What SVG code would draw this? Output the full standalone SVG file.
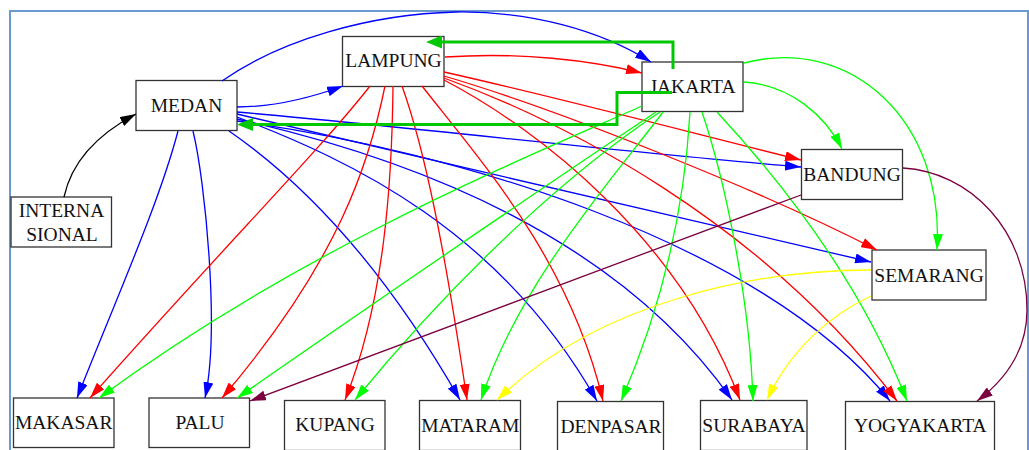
<svg xmlns="http://www.w3.org/2000/svg" width="1029" height="450" viewBox="0 0 1029 450">
<style>
.frame{fill:none;stroke:#6a9ad0;stroke-width:2}
.node rect{fill:#fff;stroke:#333;stroke-width:1.3}
.node text{font-family:"Liberation Serif","Times New Roman",serif;font-size:19.5px;fill:#111;text-anchor:middle}
.e{fill:none;stroke-width:1.3}
.bl{stroke:#0000ff;marker-end:url(#aB)}
.rd{stroke:#ff0000;marker-end:url(#aR)}
.gr{stroke:#00ff00;marker-end:url(#aG)}
.mr{stroke:#7a0040;marker-end:url(#aM)}
.yl{stroke:#ffff00;marker-end:url(#aY)}
.bk{stroke:#000;marker-end:url(#aK)}
.tg{fill:none;stroke:#00c800;stroke-width:3;marker-end:url(#aT)}
</style>
<defs>
<marker id="aB" viewBox="0 0 16 10" refX="16" refY="5" markerWidth="16" markerHeight="10" markerUnits="userSpaceOnUse" orient="auto"><path d="M0,0L16,5L0,10z" fill="#0000ff"/></marker>
<marker id="aR" viewBox="0 0 16 10" refX="16" refY="5" markerWidth="16" markerHeight="10" markerUnits="userSpaceOnUse" orient="auto"><path d="M0,0L16,5L0,10z" fill="#ff0000"/></marker>
<marker id="aG" viewBox="0 0 16 10" refX="16" refY="5" markerWidth="16" markerHeight="10" markerUnits="userSpaceOnUse" orient="auto"><path d="M0,0L16,5L0,10z" fill="#00ff00"/></marker>
<marker id="aM" viewBox="0 0 16 10" refX="16" refY="5" markerWidth="16" markerHeight="10" markerUnits="userSpaceOnUse" orient="auto"><path d="M0,0L16,5L0,10z" fill="#7a0040"/></marker>
<marker id="aY" viewBox="0 0 16 10" refX="16" refY="5" markerWidth="16" markerHeight="10" markerUnits="userSpaceOnUse" orient="auto"><path d="M0,0L16,5L0,10z" fill="#ffff00"/></marker>
<marker id="aK" viewBox="0 0 16 10" refX="16" refY="5" markerWidth="16" markerHeight="10" markerUnits="userSpaceOnUse" orient="auto"><path d="M0,0L16,5L0,10z" fill="#000"/></marker>
<marker id="aT" viewBox="0 0 16 13" refX="0" refY="6.5" markerWidth="16" markerHeight="13" markerUnits="userSpaceOnUse" orient="auto"><path d="M0,0L16,6.5L0,13z" fill="#00c800"/></marker>
</defs>
<rect class="frame" x="10" y="11" width="1018" height="460"/>

<g id="MEDAN" class="node"><rect x="136" y="80.5" width="101" height="50"/><text x="186.5" y="112.3">MEDAN</text></g>
<g id="LAMPUNG" class="node"><rect x="342.5" y="36.5" width="101.5" height="50"/><text x="393.5" y="67">LAMPUNG</text></g>
<g id="JAKARTA" class="node"><rect x="642" y="62" width="101" height="49.5"/><text x="692.5" y="93">JAKARTA</text></g>
<g id="BANDUNG" class="node"><rect x="801.5" y="149.5" width="101" height="50"/><text x="852" y="181">BANDUNG</text></g>
<g id="SEMARANG" class="node"><rect x="872" y="250" width="114" height="50"/><text x="929" y="281.7">SEMARANG</text></g>
<g id="INTERNASIONAL" class="node"><rect x="11" y="197" width="100.5" height="50"/><text x="61.5" y="216.7">INTERNA</text><text x="62" y="240.7">SIONAL</text></g>
<g id="MAKASAR" class="node"><rect x="13.5" y="398" width="100.5" height="49.5"/><text x="63.7" y="429.3">MAKASAR</text></g>
<g id="PALU" class="node"><rect x="149" y="398" width="100.5" height="49.5"/><text x="200" y="429.3">PALU</text></g>
<g id="KUPANG" class="node"><rect x="284.5" y="400.5" width="100.5" height="50"/><text x="335" y="431">KUPANG</text></g>
<g id="MATARAM" class="node"><rect x="419.5" y="400.5" width="101" height="50"/><text x="470.3" y="431.7">MATARAM</text></g>
<g id="DENPASAR" class="node"><rect x="557.5" y="401.5" width="106" height="50"/><text x="611" y="432.7">DENPASAR</text></g>
<g id="SURABAYA" class="node"><rect x="700.5" y="400.5" width="106.5" height="50"/><text x="754" y="431.7">SURABAYA</text></g>
<g id="YOGYAKARTA" class="node"><rect x="845.5" y="401.5" width="149" height="50"/><text x="920.3" y="432.3">YOGYAKARTA</text></g>

<g id="edges">
<path class="e bk" d="M64,197 C72,160 100,133 136,114"/>
<path class="e bl" d="M237,107 C275,107 310,98 343,86"/>
<path class="e bl" d="M222,81 C280,40 370,14 456,12 C530,11 600,30 651,62"/>
<path class="e bl" d="M237,112 C420,128 620,152 801,167"/>
<path class="e bl" d="M237,114 C450,165 700,222 871,262"/>
<path class="e bl" d="M178,131 C160,200 120,290 77,398"/>
<path class="e bl" d="M193,131 C205,180 220,330 205,398"/>
<path class="e bl" d="M229,131 C300,180 380,260 460,400"/>
<path class="e bl" d="M237,117 C350,160 500,230 597,401"/>
<path class="e bl" d="M237,119 C420,160 620,240 732,400"/>
<path class="e bl" d="M237,121 C450,150 760,240 890,401"/>

<path class="e rd" d="M445,57 C520,52 590,60 642,73"/>
<path class="e rd" d="M444,72 C560,98 700,135 801,160"/>
<path class="e rd" d="M444,76 C560,110 760,190 877,250"/>
<path class="e rd" d="M370,86 C320,150 230,240 90,398"/>
<path class="e rd" d="M385,86 C370,160 340,260 222,398"/>
<path class="e rd" d="M393,86 C392,180 385,300 345,400"/>
<path class="e rd" d="M402,86 C425,150 445,250 467,400"/>
<path class="e rd" d="M422,86 C480,160 570,260 603,401"/>
<path class="e rd" d="M444,80 C540,130 680,240 740,400"/>
<path class="e rd" d="M444,78 C560,120 760,220 897,401"/>

<path class="e gr" d="M744,82 C790,85 825,115 842,149"/>
<path class="e gr" d="M744,63 C850,35 945,120 937,250"/>
<path class="e gr" d="M642,106 C520,160 300,250 99,398"/>
<path class="e gr" d="M656,112 C560,176 400,285 237,398"/>
<path class="e gr" d="M660,112 C580,165 470,260 355,400"/>
<path class="e gr" d="M663,112 C620,170 520,280 481,400"/>
<path class="e gr" d="M690,112 C685,200 665,300 621,401"/>
<path class="e gr" d="M702,112 C725,180 750,300 753,401"/>
<path class="e gr" d="M717,112 C780,180 860,280 907,401"/>

<path class="e mr" d="M801,195 C620,262 420,338 250,401"/>
<path class="e mr" d="M903,168 C970,172 1027,230 1027,310 C1027,350 1005,380 977,401"/>

<path class="e yl" d="M871,270 C760,270 600,300 497,400"/>
<path class="e yl" d="M871,296 C830,315 790,350 767,400"/>

<path class="tg" d="M673,69 L673,42 L442,42"/>
<path class="tg" d="M672,92.5 L617,92.5 L617,124.5 L253,124.5"/>
</g>
</svg>
